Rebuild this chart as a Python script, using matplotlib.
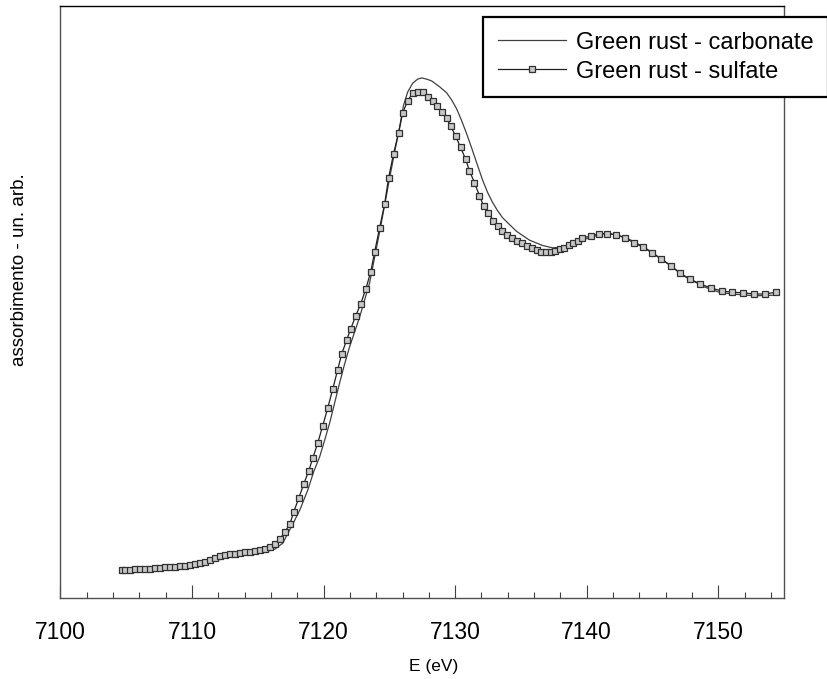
import matplotlib
matplotlib.use('Agg')
import matplotlib.pyplot as plt
from matplotlib.ticker import MultipleLocator, NullLocator

plt.rcParams['font.family'] = ['Liberation Sans', 'DejaVu Sans']

# Green rust - sulfate (energy in eV, absorption in arb. units)
e_sulf = [7104.67, 7104.90, 7105.28, 7105.66, 7106.04, 7106.42, 7106.80, 7107.18,
          7107.56, 7107.93, 7108.31, 7108.69, 7109.07, 7109.45, 7109.83, 7110.21,
          7110.59, 7110.97, 7111.35, 7111.73, 7112.11, 7112.49, 7112.87, 7113.25,
          7113.63, 7114.01, 7114.39, 7114.77, 7115.15, 7115.53, 7115.91, 7116.29,
          7116.67, 7117.05, 7117.43, 7117.73, 7118.11, 7118.49, 7118.87, 7119.18,
          7119.55, 7119.93, 7120.31, 7120.69, 7121.07, 7121.38, 7121.75, 7122.06,
          7122.44, 7122.82, 7123.20, 7123.58, 7123.88, 7124.26, 7124.64, 7124.94,
          7125.32, 7125.70, 7126.01, 7126.39, 7126.77, 7127.15, 7127.53, 7127.91,
          7128.29, 7128.59, 7128.97, 7129.35, 7129.65, 7130.03, 7130.41, 7130.79,
          7131.09, 7131.47, 7131.85, 7132.16, 7132.53, 7132.91, 7133.29, 7133.60,
          7133.98, 7134.36, 7134.74, 7135.12, 7135.50, 7135.88, 7136.26, 7136.56,
          7136.94, 7137.32, 7137.62, 7138.00, 7138.31, 7138.69, 7138.99, 7139.37,
          7139.67, 7140.35, 7140.96, 7141.57, 7142.25, 7142.94, 7143.62, 7144.30,
          7144.99, 7145.67, 7146.43, 7147.11, 7147.87, 7148.63, 7149.46, 7150.30,
          7151.06, 7151.89, 7152.73, 7153.56, 7154.40]
a_sulf = [0.047, 0.047, 0.047, 0.048, 0.048, 0.048, 0.048, 0.050,
          0.050, 0.052, 0.052, 0.052, 0.054, 0.054, 0.055, 0.057,
          0.059, 0.060, 0.064, 0.067, 0.070, 0.072, 0.074, 0.074,
          0.076, 0.077, 0.077, 0.079, 0.081, 0.082, 0.086, 0.091,
          0.099, 0.111, 0.124, 0.145, 0.168, 0.192, 0.214, 0.236,
          0.261, 0.290, 0.320, 0.352, 0.385, 0.412, 0.435, 0.454,
          0.476, 0.496, 0.521, 0.550, 0.584, 0.625, 0.665, 0.709,
          0.750, 0.785, 0.819, 0.839, 0.853, 0.854, 0.854, 0.846,
          0.839, 0.831, 0.820, 0.810, 0.797, 0.780, 0.761, 0.741,
          0.721, 0.701, 0.679, 0.662, 0.650, 0.637, 0.628, 0.620,
          0.613, 0.608, 0.603, 0.599, 0.594, 0.591, 0.587, 0.584,
          0.584, 0.584, 0.586, 0.589, 0.591, 0.596, 0.599, 0.603,
          0.608, 0.611, 0.615, 0.615, 0.613, 0.608, 0.599, 0.592,
          0.582, 0.572, 0.560, 0.548, 0.538, 0.530, 0.523, 0.518,
          0.516, 0.515, 0.513, 0.513, 0.516]

# Green rust - carbonate
e_carb = [7104.67, 7106.80, 7109.07, 7110.59, 7111.73, 7112.87, 7114.39, 7115.53,
          7116.29, 7116.89, 7117.65, 7118.19, 7118.80, 7119.25, 7119.70, 7120.08,
          7120.46, 7120.84, 7121.22, 7121.60, 7121.98, 7122.36, 7122.74, 7123.12,
          7123.50, 7123.88, 7124.26, 7124.64, 7125.02, 7125.40, 7125.78, 7126.08,
          7126.39, 7126.77, 7127.15, 7127.45, 7127.83, 7128.21, 7128.82, 7129.35,
          7129.73, 7130.11, 7130.49, 7130.87, 7131.25, 7131.63, 7132.08, 7132.46,
          7132.84, 7133.22, 7133.60, 7134.66, 7135.65, 7136.64, 7137.40, 7138.15,
          7139.22, 7140.35, 7141.57, 7143.01, 7144.38, 7145.90, 7147.42, 7148.93,
          7150.07, 7151.06, 7152.73, 7154.40]
a_carb = [0.045, 0.047, 0.052, 0.055, 0.062, 0.069, 0.074, 0.077,
          0.082, 0.092, 0.124, 0.148, 0.182, 0.213, 0.238, 0.266,
          0.295, 0.329, 0.363, 0.395, 0.424, 0.449, 0.474, 0.503,
          0.532, 0.575, 0.618, 0.663, 0.709, 0.753, 0.795, 0.832,
          0.854, 0.869, 0.876, 0.878, 0.876, 0.873, 0.863, 0.853,
          0.841, 0.826, 0.806, 0.784, 0.760, 0.735, 0.706, 0.685,
          0.668, 0.654, 0.642, 0.619, 0.604, 0.595, 0.591, 0.592,
          0.601, 0.609, 0.616, 0.608, 0.592, 0.569, 0.543, 0.525,
          0.516, 0.513, 0.510, 0.511]

W, H = 827, 679
fig = plt.figure(figsize=(W / 100, H / 100), dpi=100)
ax = fig.add_axes([60.5 / W, 1 - 597.7 / H, (784 - 60.5) / W, (597.7 - 5.7) / H])

ax.plot(e_carb, a_carb, color='#404040', lw=0.9,
        label='Green rust - carbonate')
ax.plot(e_sulf, a_sulf, color='#202020', lw=0.9, marker='s', ms=3.8,
        mfc='#c8c8c8', mec='#303030', mew=0.9,
        label='Green rust - sulfate')

ax.set_xlim(7100, 7155)
ax.set_ylim(0, 1)
ax.xaxis.set_major_locator(MultipleLocator(10))
ax.xaxis.set_minor_locator(MultipleLocator(2))
ax.yaxis.set_major_locator(NullLocator())
ax.tick_params(axis='x', which='major', direction='in', length=9.2, width=0.8,
               color='#404040', labelsize=16.5, pad=17)
ax.tick_params(axis='x', which='minor', direction='in', length=4.3, width=0.8,
               color='#404040')
ax.spines['top'].set_color('black')
for s in ['left', 'bottom', 'right']:
    ax.spines[s].set_color('#505050')
for s in ax.spines.values():
    s.set_linewidth(1.0)

fig.text(434 / W, 1 - 666 / H, 'E (eV)', ha='center', va='center',
         fontsize=12.5)
fig.text(20 / W, 1 - 270 / H, 'assorbimento - un. arb.', ha='center',
         va='center', rotation=90, fontsize=13.5)

leg = ax.legend(loc='upper left', bbox_to_anchor=(483 / W, 1 - 17 / H),
                bbox_transform=fig.transFigure, fontsize=17, frameon=True,
                fancybox=False, borderaxespad=0, handlelength=2.9,
                handletextpad=0.4, labelspacing=0.3, borderpad=0.62)
leg.get_frame().set_edgecolor('black')
leg.get_frame().set_linewidth(1.6)
leg.get_frame().set_alpha(1)

fig.savefig('out.png', dpi=100)
